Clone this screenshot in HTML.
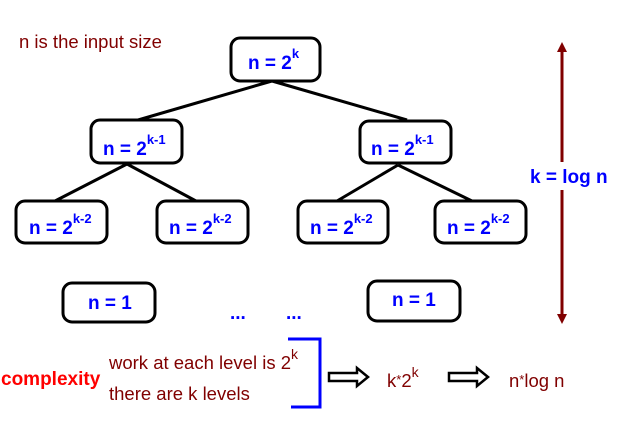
<!DOCTYPE html>
<html><head><meta charset="utf-8"><style>
html,body{margin:0;padding:0;background:#fff;width:631px;height:423px;overflow:hidden}
svg{display:block}
.b{fill:#fff;stroke:#000;stroke-width:3}
.t{font-family:"Liberation Sans",Arial,sans-serif;font-weight:bold;fill:#0000ff;font-size:19px}
.s{font-size:13px}
.r{font-family:"Liberation Sans",Arial,sans-serif;fill:#800000;font-size:18.5px}
</style></head><body>
<svg width="631" height="423" viewBox="0 0 631 423" xmlns="http://www.w3.org/2000/svg">
<g stroke="#000" stroke-width="3">
<line x1="272" y1="81" x2="138" y2="120"/>
<line x1="272" y1="81" x2="407" y2="120"/>
<line x1="127" y1="164" x2="55" y2="201"/>
<line x1="127" y1="164" x2="196" y2="201"/>
<line x1="398" y1="165" x2="337" y2="201"/>
<line x1="398" y1="165" x2="472" y2="201"/>
</g>
<rect class="b" x="231" y="38" width="89" height="43" rx="9"/>
<rect class="b" x="91" y="120" width="91" height="43" rx="9"/>
<rect class="b" x="360" y="121" width="91" height="42" rx="9"/>
<rect class="b" x="16" y="201" width="91" height="42" rx="9"/>
<rect class="b" x="157" y="201" width="91" height="42" rx="9"/>
<rect class="b" x="298" y="201" width="90" height="42" rx="9"/>
<rect class="b" x="435" y="201" width="91" height="42" rx="9"/>
<rect class="b" x="63" y="283" width="92" height="39" rx="9"/>
<rect class="b" x="368" y="281" width="92" height="40" rx="9"/>

<text class="t" x="248" y="69">n = 2<tspan class="s" dy="-11">k</tspan></text>
<text class="t" x="103" y="155">n = 2<tspan class="s" dy="-11">k-1</tspan></text>
<text class="t" x="371" y="155">n = 2<tspan class="s" dy="-11">k-1</tspan></text>
<text class="t" x="29" y="234">n = 2<tspan class="s" dy="-11">k-2</tspan></text>
<text class="t" x="169" y="234">n = 2<tspan class="s" dy="-11">k-2</tspan></text>
<text class="t" x="310" y="234">n = 2<tspan class="s" dy="-11">k-2</tspan></text>
<text class="t" x="447" y="234">n = 2<tspan class="s" dy="-11">k-2</tspan></text>
<text class="t" x="88" y="309">n = 1</text>
<text class="t" x="392" y="306">n = 1</text>
<text class="t" x="230" y="319">...</text>
<text class="t" x="286" y="319">...</text>

<text class="r" x="19" y="48">n is the input size</text>

<line x1="562" y1="50" x2="562" y2="318" stroke="#800000" stroke-width="3"/>
<polygon points="562,42 557,52 567,52" fill="#800000"/>
<polygon points="562,324 557,314 567,314" fill="#800000"/>
<rect x="528" y="162" width="78" height="28" fill="#fff"/>
<text class="t" x="530" y="183">k = log n</text>

<text x="1" y="385" font-family="Liberation Sans,Arial,sans-serif" font-weight="bold" font-size="19" fill="#ff0000">complexity</text>
<text class="r" x="109" y="369">work at each level is 2<tspan font-size="14" dy="-10">k</tspan></text>
<text class="r" x="109" y="400">there are k levels</text>
<polyline points="288,339 320,339 320,407 291,407" fill="none" stroke="#0000ff" stroke-width="3"/>

<polygon points="329,373 357,373 357,368 368,377 357,386 357,381 329,381" fill="#fff" stroke="#000" stroke-width="2.5"/>
<polygon points="449,373 477,373 477,368 488,377 477,386 477,381 449,381" fill="#fff" stroke="#000" stroke-width="2.5"/>
<text class="r" x="387" y="387">k<tspan font-size="13" dy="-3">*</tspan><tspan dy="3">2</tspan><tspan font-size="14" dy="-10">k</tspan></text>
<text class="r" x="509" y="387">n<tspan font-size="13" dy="-3">*</tspan><tspan dy="3">log n</tspan></text>
</svg>
</body></html>
